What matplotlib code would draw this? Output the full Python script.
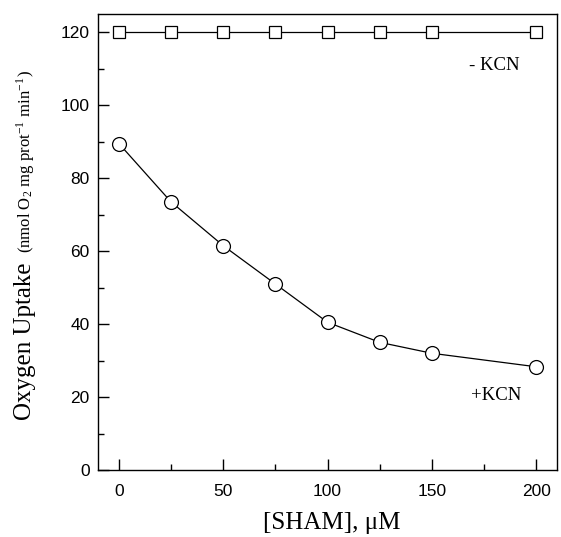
import matplotlib
matplotlib.use("Agg")
import matplotlib.pyplot as plt
from matplotlib.ticker import MultipleLocator

sham = [0, 25, 50, 75, 100, 125, 150, 200]
minus_kcn = [120, 120, 120, 120, 120, 120, 120, 120]
plus_kcn = [89.5, 73.5, 61.5, 51, 40.5, 35, 32, 28.3]

fig = plt.figure(figsize=(5.61, 5.37), dpi=100)
ax = fig.add_axes([98/561, 1-470/537, (557-98)/561, (470-14)/537])

ax.plot(sham, minus_kcn, color='black', lw=0.9, marker='s', ms=8,
        mfc='white', mec='black', mew=0.9)
ax.plot(sham, plus_kcn, color='black', lw=0.9, marker='o', ms=10,
        mfc='white', mec='black', mew=0.9)

ax.set_xlim(-10, 210)
ax.set_ylim(0, 125)
ax.xaxis.set_major_locator(MultipleLocator(50))
ax.xaxis.set_minor_locator(MultipleLocator(25))
ax.yaxis.set_major_locator(MultipleLocator(20))
ax.yaxis.set_minor_locator(MultipleLocator(10))
ax.tick_params(which='both', direction='in', width=1.0)
ax.tick_params(which='major', length=8, labelsize=12.5)
ax.tick_params(axis='x', which='major', pad=10)
ax.tick_params(axis='y', which='major', pad=6)
ax.tick_params(which='minor', length=4)
for lab in ax.get_xticklabels() + ax.get_yticklabels():
    lab.set_fontfamily('Liberation Sans')
for s in ax.spines.values():
    s.set_linewidth(1.0)

serif = 'Liberation Serif'
ax.text(180, 111, '- KCN', family=serif, fontsize=13.5, ha='center', va='center')
ax.text(181, 20.5, '+KCN', family=serif, fontsize=13.5, ha='center', va='center')

fig.text(332/561, 1-523/537, '[SHAM], \u03bcM', family=serif, fontsize=18,
         ha='center', va='center')
fig.text(25/561, 1-420/537, 'Oxygen Uptake', family=serif, fontsize=18,
         rotation=90, ha='center', va='bottom')
fig.text(26/561, 1-253/537, r'(nmol O$_\mathregular{2}$ mg prot$^\mathregular{-1}$ min$^\mathregular{-1}$)',
         family=serif, fontsize=12, rotation=90, ha='center', va='bottom',
         math_fontfamily='stix')

fig.savefig('out.png', dpi=100)
